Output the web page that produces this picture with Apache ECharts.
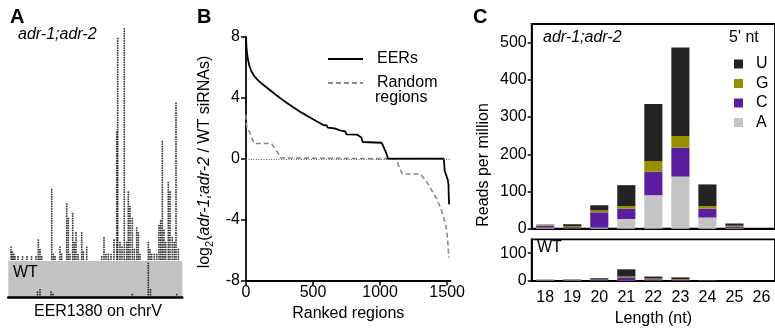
<!DOCTYPE html>
<html>
<head>
<meta charset="utf-8">
<script src="https://cdn.jsdelivr.net/npm/echarts@6/dist/echarts.min.js"></script>
<style>
  html, body { margin: 0; padding: 0; background: #fff; }
  #chart { width: 775px; height: 330px; }
</style>
</head>
<body>
<div id="chart"></div>
<script>
// Panel A: siRNA read pileup along EER1380 (column position, stacked reads)
const pileupPos = [2.7, 4, 5.4, 6.7, 9.7, 14.2, 18.7, 23.2, 27.7, 30, 31.7, 33.4, 43.4, 45, 46.7,
  51.7, 53.4, 58.4, 60, 61.7, 64.4, 66, 67.7, 69.7, 73.4, 75, 78.4, 93.4, 95.7, 97.7, 100, 102.7,
  105.7, 108.6, 109.4, 111.7, 113.7, 116, 118.4, 120, 121.7, 124, 126, 128.4, 130, 131.7, 140,
  141.7, 143.4, 146, 148.4, 150.7, 152.4, 154, 155.7, 157.4, 160, 161.7, 164, 166, 167.7, 170];
const pileupReads = [6, 4, 3, 2, 2, 2, 2, 2, 2, 9, 5, 2, 30, 3, 2,
  6, 3, 24, 18, 3, 20, 8, 12, 3, 12, 4, 6, 2, 10, 3, 3, 3,
  9, 54, 93, 8, 6, 97, 8, 29, 23, 18, 5, 14, 12, 3, 8,
  5, 3, 3, 3, 15, 17, 50, 13, 8, 33, 29, 10, 8, 66, 5];
const wtPileupPos = [29.2, 31.7, 42.7, 44.7, 124, 140, 142.2, 168.4];
const wtPileupReads = [2, 3, 2, 1, 1, 14, 3, 1];

// Panel B: ranked log2 fold change
const eerRank = [0, 3, 8, 15, 25, 40, 60, 80, 100, 140, 180, 220, 260, 300, 350, 400, 450, 500,
  540, 580, 600, 610, 660, 670, 700, 740, 750, 830, 840, 860, 870, 1010, 1020, 1040, 1060,
  1475, 1482, 1490, 1500, 1505, 1510, 1512, 1515];
const eerLog2 = [8, 7.4, 6.9, 6.5, 6.1, 5.75, 5.45, 5.25, 5.07, 4.78, 4.5, 4.22, 3.95, 3.7, 3.4,
  3.1, 2.85, 2.6, 2.4, 2.2, 2.2, 2.05, 2.0, 1.9, 1.86, 1.8, 1.6, 1.58, 1.5, 1.4, 1.1, 1.05, 0.9,
  0.5, 0, 0, -0.8, -1.0, -1.1, -1.4, -1.7, -2.5, -3.0];
const randRank = [0, 3, 8, 30, 50, 65, 190, 230, 260, 270, 1120, 1140, 1165, 1300, 1340, 1380,
  1420, 1450, 1475, 1490, 1500, 1507, 1512];
const randLog2 = [2.9, 2.3, 2.0, 1.7, 1.2, 1.0, 1.0, 0.5, 0.05, 0, 0, -0.5, -1.0, -1.0, -1.4,
  -2.0, -2.6, -3.2, -3.9, -4.4, -5.0, -5.7, -6.5];
const rankTicks = [0, 500, 1000, 1500];

// Panel C: siRNA length / 5' nt distribution (reads per million)
const lengths = ['18', '19', '20', '21', '22', '23', '24', '25', '26'];
const mutA = [3, 1, 3, 26, 90, 140, 30, 2, 0];
const mutC = [5, 3, 41, 28, 63, 78, 24, 3, 0];
const mutG = [2, 3, 5, 7, 29, 31, 7, 3, 0];
const mutU = [1, 5, 14, 56, 153, 238, 58, 6, 0];
const wtA = [2, 2, 1, 2, 1, 1, 1, 0, 0];
const wtC = [1, 1, 3, 11, 5, 3, 1, 0, 0];
const wtG = [1, 2, 1, 3, 3, 2, 0, 0, 0];
const wtU = [1, 1, 5, 26, 7, 7, 1, 1, 0];
const mutTicks = [0, 100, 200, 300, 400, 500];
const wtTicks = [0, 100];

const FONT = "'Liberation Sans', Arial, Helvetica, sans-serif";
const nucColors = { U: '#232323', G: '#999000', C: '#5a1e9e', A: '#c4c4c4' };

function stackDots(pos, reads) {
  const pts = [];
  pos.forEach((p, i) => {
    for (let k = 1; k <= reads[i]; k++) pts.push([p, k]);
  });
  return pts;
}

const zip = (a, b) => a.map((v, i) => [v, b[i]]);

const chart = echarts.init(document.getElementById('chart'), null, { renderer: 'canvas' });

const axisBlack = { lineStyle: { color: '#000', width: 1.8 } };
const label16 = { color: '#000', fontSize: 16, fontFamily: FONT };
const plain = (v) => String(v);

function nucBars(nuc, values, idx) {
  return {
    name: nuc,
    type: 'bar',
    stack: 'len' + idx,
    xAxisIndex: idx,
    yAxisIndex: idx,
    barCategoryGap: '33%',
    data: values,
    itemStyle: { color: nucColors[nuc] },
    silent: true
  };
}

function text(x, y, str, extra) {
  return {
    type: 'text',
    x: x,
    y: y,
    style: Object.assign({ text: str, fill: '#000', font: '16px ' + FONT }, extra || {})
  };
}

const option = {
  animation: false,
  grid: [
    { left: 8.3, top: 21.7, width: 174, height: 240 },
    { left: 8.3, top: 261, width: 174, height: 36, show: true, backgroundColor: '#c2c2c2', borderWidth: 0 },
    { left: 246, top: 37, width: 204.5, height: 243.5 },
    { left: 531.7, top: 24, width: 246.6, height: 204.7, show: true, borderColor: '#000', borderWidth: 1.8 },
    { left: 531.7, top: 239.3, width: 246.6, height: 41.7, show: true, borderColor: '#000', borderWidth: 1.8 }
  ],
  xAxis: [
    { gridIndex: 0, type: 'value', min: 0, max: 174, show: false },
    { gridIndex: 1, type: 'value', min: 0, max: 174,
      axisLine: { onZero: false, lineStyle: { color: '#000', width: 2.5 } },
      axisTick: { show: false }, axisLabel: { show: false }, splitLine: { show: false } },
    { gridIndex: 2, type: 'value', min: 0, max: 1525,
      axisLine: Object.assign({ onZero: false }, axisBlack),
      axisTick: { length: 5, customValues: rankTicks, lineStyle: { color: '#000', width: 1.5 } },
      axisLabel: Object.assign({ margin: 4, customValues: rankTicks, formatter: plain }, label16),
      splitLine: { show: false },
      name: 'Ranked regions', nameLocation: 'middle', nameGap: 20, nameTextStyle: label16 },
    { gridIndex: 3, type: 'category', data: lengths,
      axisLine: axisBlack,
      axisTick: { alignWithLabel: true, length: 4, lineStyle: { color: '#000', width: 1.5 } },
      axisLabel: { show: false } },
    { gridIndex: 4, type: 'category', data: lengths,
      axisLine: axisBlack,
      axisTick: { alignWithLabel: true, length: 4, lineStyle: { color: '#000', width: 1.5 } },
      axisLabel: Object.assign({ margin: 9 }, label16),
      name: 'Length (nt)', nameLocation: 'middle', nameGap: 30, nameTextStyle: label16 }
  ],
  yAxis: [
    { gridIndex: 0, type: 'value', min: 0, max: 100, show: false },
    { gridIndex: 1, type: 'value', min: 0, max: 15, show: false },
    { gridIndex: 2, type: 'value', min: -8, max: 8, interval: 4,
      axisLine: Object.assign({ show: true, onZero: false }, axisBlack),
      axisTick: { show: true, length: 5, lineStyle: { color: '#000', width: 1.5 } },
      axisLabel: Object.assign({ margin: 6 }, label16),
      splitLine: { show: false } },
    { gridIndex: 3, type: 'value', min: 0, max: 550,
      axisLine: Object.assign({ show: true }, axisBlack),
      axisTick: { show: true, length: 4, customValues: mutTicks, lineStyle: { color: '#000', width: 1.5 } },
      axisLabel: Object.assign({ margin: 5, customValues: mutTicks, formatter: plain }, label16),
      splitLine: { show: false } },
    { gridIndex: 4, type: 'value', min: 0, max: 150,
      axisLine: Object.assign({ show: true }, axisBlack),
      axisTick: { show: true, length: 4, customValues: wtTicks, lineStyle: { color: '#000', width: 1.5 } },
      axisLabel: Object.assign({ margin: 5, customValues: wtTicks, formatter: plain }, label16),
      splitLine: { show: false } }
  ],
  legend: [
    { data: ['EERs', 'Random regions'], orient: 'vertical', left: 322, top: 46,
      itemWidth: 35, itemHeight: 14, itemGap: 8, selectedMode: false,
      itemStyle: { opacity: 0 },
      formatter: (n) => (n === 'Random regions' ? 'Random' : n),
      textStyle: Object.assign({ padding: [0, 0, 0, 9] }, label16) },
    { data: ['U', 'G', 'C', 'A'], orient: 'vertical', left: 729, top: 51,
      icon: 'rect', itemWidth: 9, itemHeight: 9, itemGap: 3.5, selectedMode: false,
      textStyle: Object.assign({ padding: [0, 0, 0, 8] }, label16) }
  ],
  series: [
    { type: 'scatter', xAxisIndex: 0, yAxisIndex: 0, symbol: 'rect', symbolSize: 1.6,
      itemStyle: { color: '#000' }, silent: true, data: stackDots(pileupPos, pileupReads) },
    { type: 'scatter', xAxisIndex: 1, yAxisIndex: 1, symbol: 'rect', symbolSize: 1.6,
      itemStyle: { color: '#000' }, silent: true, data: stackDots(wtPileupPos, wtPileupReads) },
    { name: 'EERs', type: 'line', xAxisIndex: 2, yAxisIndex: 2, showSymbol: false, symbol: 'none',
      lineStyle: { color: '#000', width: 1.8 }, itemStyle: { color: '#000' },
      data: zip(eerRank, eerLog2), z: 3,
      markLine: { silent: true, symbol: 'none', label: { show: false },
        lineStyle: { color: '#666', type: [1, 1.5], width: 1 }, data: [{ yAxis: 0 }] } },
    { name: 'Random regions', type: 'line', xAxisIndex: 2, yAxisIndex: 2, showSymbol: false, symbol: 'none',
      lineStyle: { color: '#8a8a8a', width: 1.6, type: [5, 3] }, itemStyle: { color: '#8a8a8a' },
      data: zip(randRank, randLog2), z: 2 },
    nucBars('A', mutA, 3), nucBars('C', mutC, 3), nucBars('G', mutG, 3), nucBars('U', mutU, 3),
    nucBars('A', wtA, 4), nucBars('C', wtC, 4), nucBars('G', wtG, 4), nucBars('U', wtU, 4)
  ],
  graphic: [
    text(10, 7, 'A', { font: 'bold 20px ' + FONT }),
    text(18, 27, 'adr-1;adr-2', { font: 'italic 16px ' + FONT }),
    text(13, 265, 'WT'),
    text(98, 304, 'EER1380 on chrV', { textAlign: 'center', align: 'center' }),
    text(197, 7, 'B', { font: 'bold 20px ' + FONT }),
    text(375, 90, 'regions'),
    text(473, 7, 'C', { font: 'bold 20px ' + FONT }),
    text(543, 30, 'adr-1;adr-2', { font: 'italic 16px ' + FONT }),
    text(537, 240, 'WT'),
    text(729, 30, "5' nt"),
    {
      type: 'text', x: 484, y: 165, rotation: Math.PI / 2,
      style: { text: 'Reads per million', fill: '#000', font: '16px ' + FONT,
        textAlign: 'center', align: 'center', textVerticalAlign: 'middle', verticalAlign: 'middle' }
    },
    {
      type: 'text', x: 205, y: 162, rotation: Math.PI / 2,
      style: {
        text: '{n|log}{s|2}{n|(}{i|adr-1;adr-2}{n| / WT siRNAs)}',
        fill: '#000',
        textAlign: 'center', align: 'center', textVerticalAlign: 'middle', verticalAlign: 'middle',
        rich: {
          n: { fontSize: 16, fontFamily: FONT, lineHeight: 20, verticalAlign: 'middle' },
          i: { fontSize: 16, fontFamily: FONT, fontStyle: 'italic', lineHeight: 20, verticalAlign: 'middle' },
          s: { fontSize: 11, fontFamily: FONT, lineHeight: 11, verticalAlign: 'bottom' }
        }
      }
    }
  ]
};

chart.setOption(option);
</script>
</body>
</html>
